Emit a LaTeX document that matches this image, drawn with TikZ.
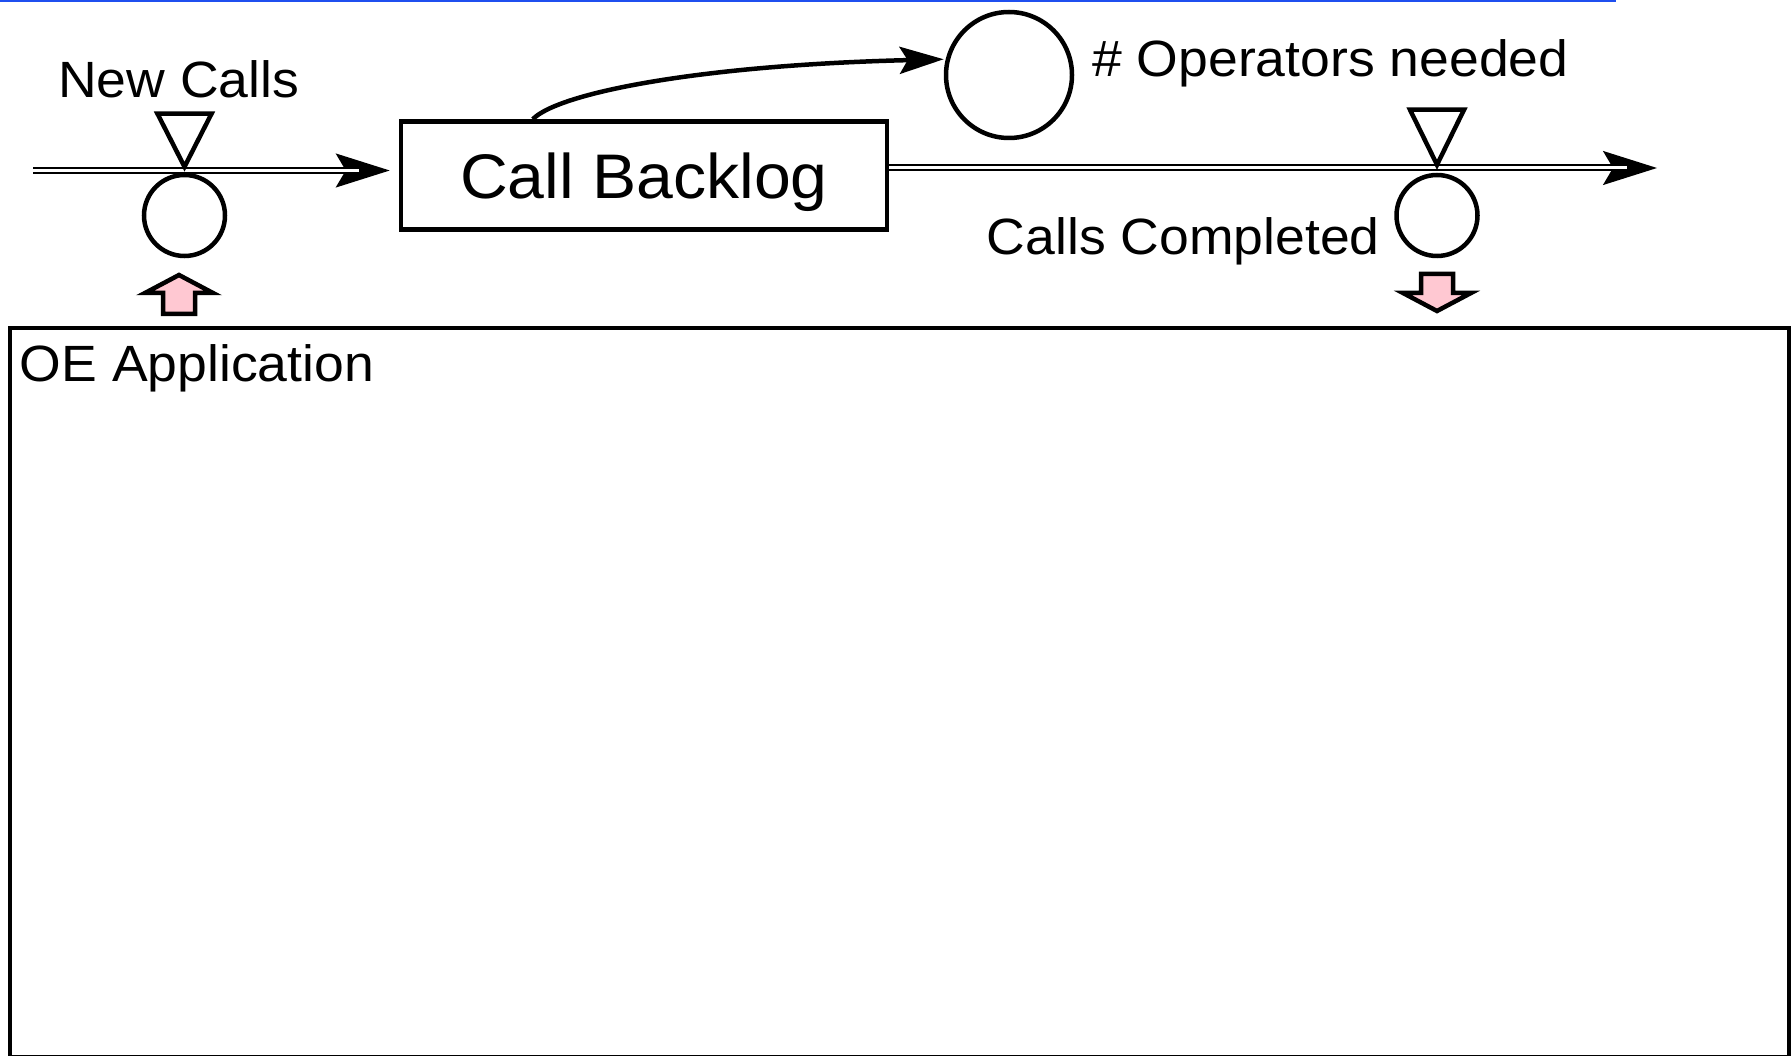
\documentclass[tikz,border=0pt]{standalone}
\usepackage{fontspec}
\setmainfont[FakeStretch=1.05]{Liberation Sans}
\usepackage{tikz}
\usetikzlibrary{positioning,arrows.meta,calc}
\definecolor{cBlue}{HTML}{1F4FEF}
\definecolor{cPink}{HTML}{FFC8D2}

\begin{document}
\begin{tikzpicture}[
  x=1pt, y=-1pt,
  every node/.style={font=\fontsize{51}{60}\selectfont, inner sep=0pt},
  stock/.style={draw, line width=4.5pt, minimum width=486pt, minimum height=108pt,
    font=\fontsize{63}{70}\selectfont, text depth=0pt},
  conv/.style={draw, circle, line width=4.5pt, minimum size=81pt},
  aux/.style={draw, circle, line width=4.5pt, minimum size=126pt},
  valve/.style={draw, line width=4.5pt, line join=miter},
  pipe/.style={draw=black, double=white, line width=2pt, double distance=3pt},
  pipetip/.style={line width=2pt, -{Stealth[length=54pt, width=34pt, inset=10pt]}},
  link/.style={line width=4.5pt, -{Stealth[length=44pt, width=27pt, inset=8pt]}},
  blockarrow/.style={draw, fill=cPink, line width=4.5pt, line join=miter},
  sector/.style={draw, line width=4.5pt, minimum width=1779pt, minimum height=729pt}]

  \useasboundingbox (0,0) rectangle (1792,1056);
  \draw[cBlue, line width=2pt] (0,1) -- (1616,1);

  % stock, flows and converters
  \node[stock] (backlog) at (644,175.5) {Call Backlog};
  \node[conv] (newcalls) at (184.5,215.5) {};
  \node[conv] (completed) at (1437,215.5) {};
  \node[aux] (operators) at (1009,75) {};
  \coordinate (source) at (33,170.5);
  \coordinate (sink) at (1657,168);

  \draw[pipetip, shorten >=9pt] (source) -- (source -| backlog.west);
  \draw[pipe, shorten >=40pt] (source) -- (source -| backlog.west);
  \draw[pipetip] (backlog.east |- sink) -- (sink);
  \draw[pipe, shorten >=30pt] (backlog.east |- sink) -- (sink);

  \draw[valve] (newcalls.north) ++(0,-6) -- ++(-27,-53) -- ++(54,0) -- cycle;
  \draw[valve] (completed.north) ++(0,-8) -- ++(-27,-55) -- ++(54,0) -- cycle;

  \draw[link, shorten >=2pt] ($(backlog.north west)+(134,0)$)
    .. controls +(25,-26) and +(-248,6) .. (operators.166);

  % labels
  \node[anchor=base west] (newcallsLabel) at (58,98) {New Calls};
  \node[anchor=base west] (operatorsLabel) at (1092,77) {\# Operators needed};
  \node[anchor=base east] (completedLabel) at (1380,255) {Calls Completed};

  % model sector
  \node[sector] (oeapp) at (899.5,692.5) {};
  \node[anchor=base west] (oeLabel) at ($(oeapp.north west)+(12,56)$) {OE Application};

  \filldraw[blockarrow] (179,275) -- (213,293) -- (195,293) -- (195,314)
    -- (163,314) -- (163,293) -- (145,293) -- cycle;
  \filldraw[blockarrow] (1437,311) -- (1471,293) -- (1453,293) -- (1453,274)
    -- (1421,274) -- (1421,293) -- (1403,293) -- cycle;
\end{tikzpicture}
\end{document}
